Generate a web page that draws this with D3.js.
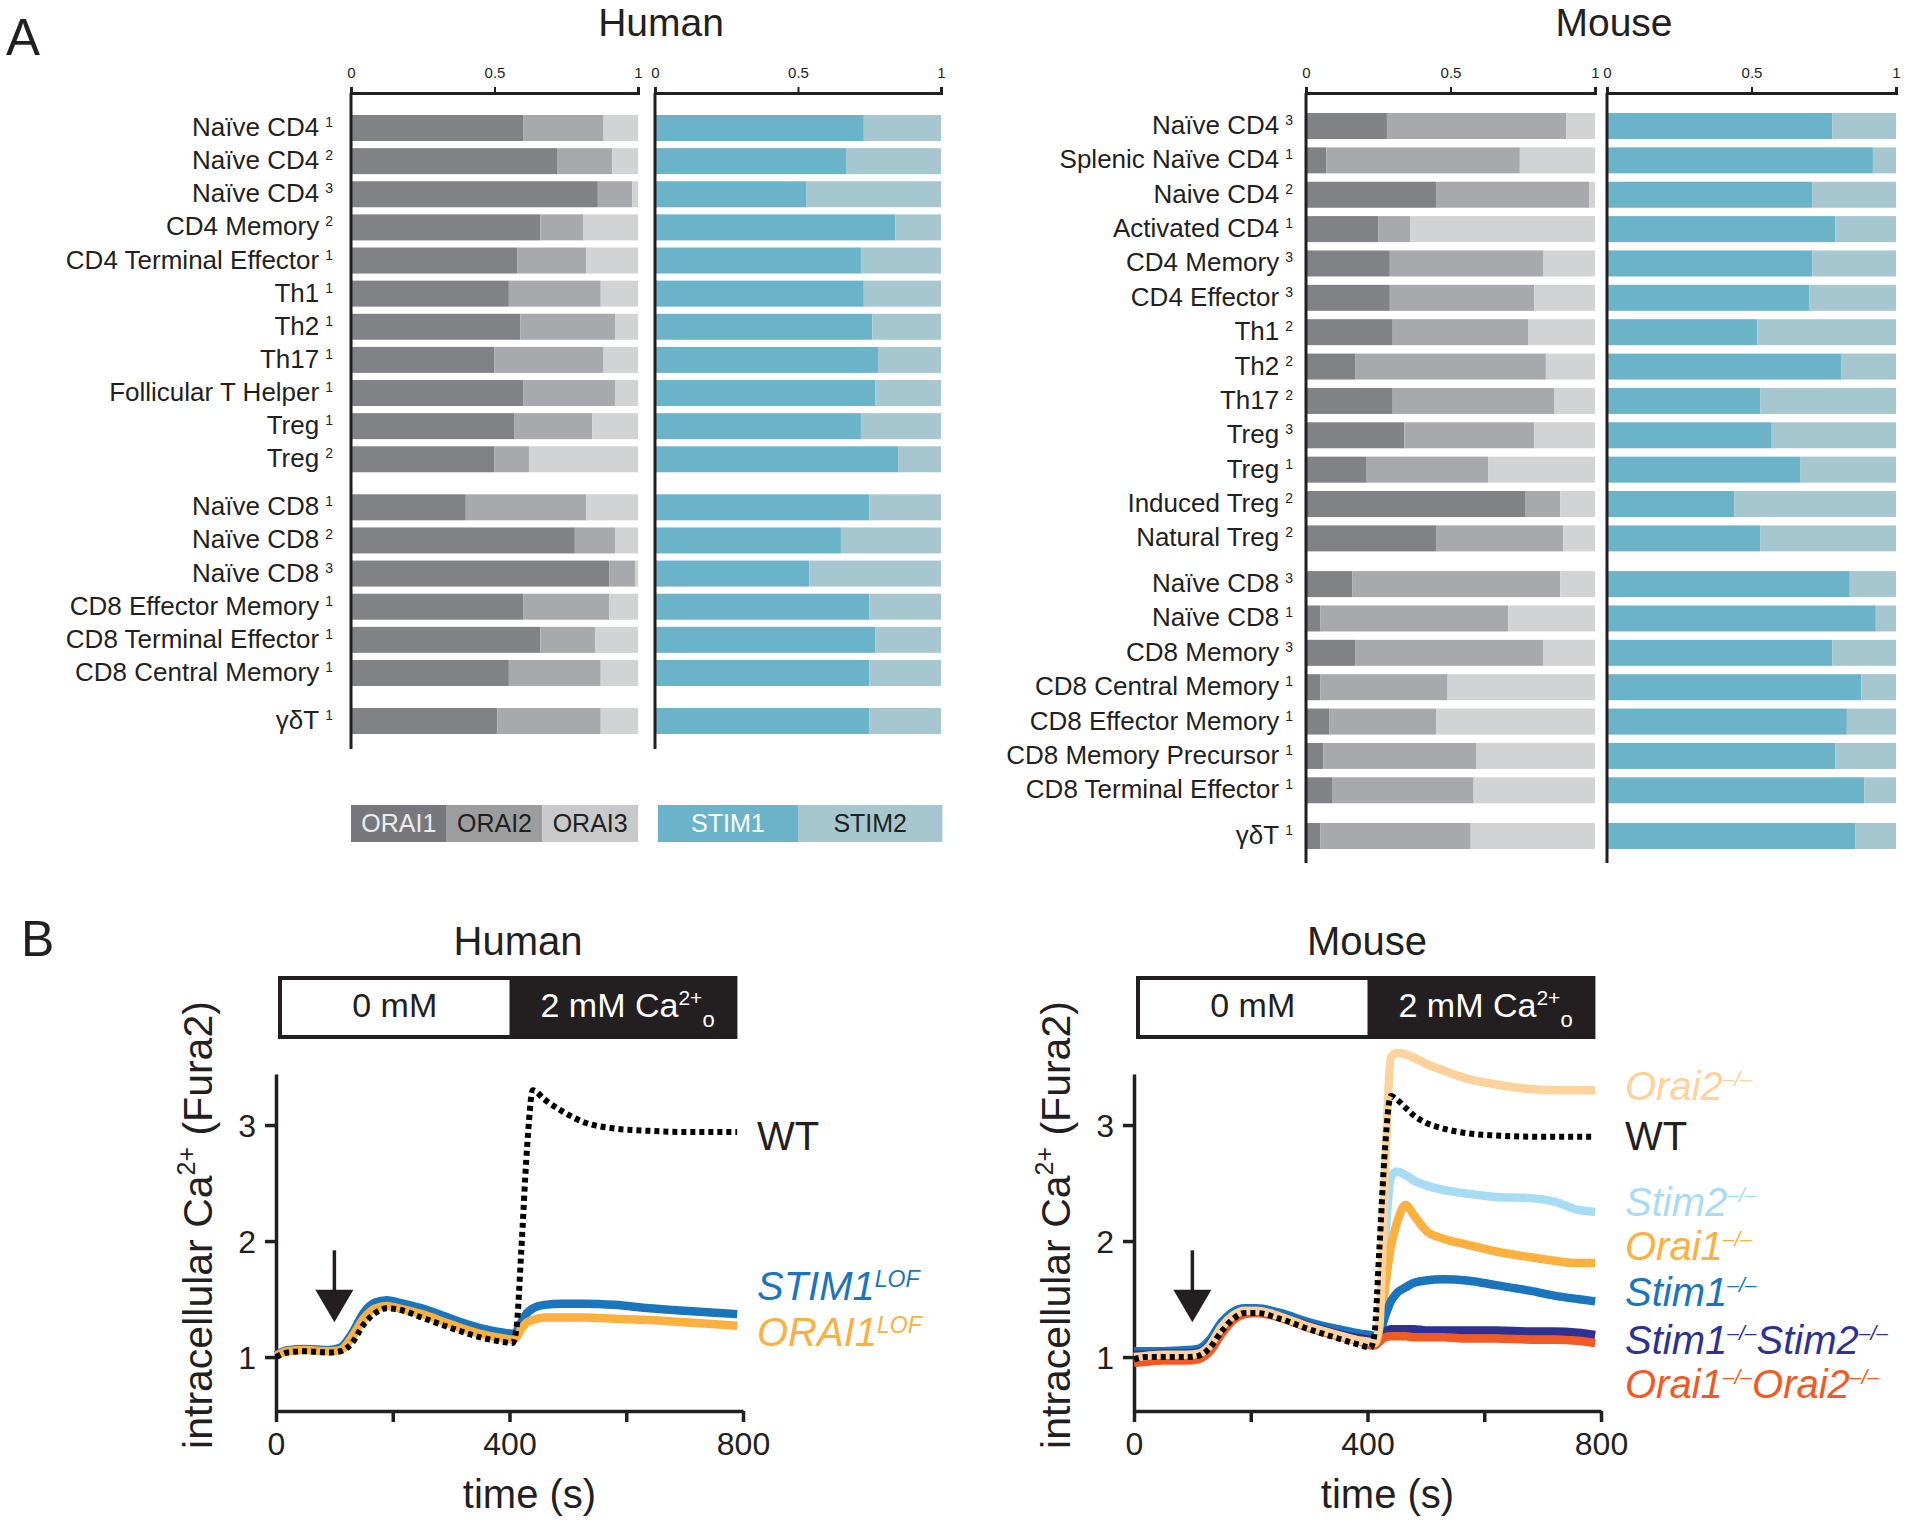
<!DOCTYPE html>
<html>
<head>
<meta charset="utf-8">
<script src="https://d3js.org/d3.v7.min.js"></script>
<style>
  body { margin: 0; background: #fff; }
  svg { display: block; font-family: "Liberation Sans", Arial, Helvetica, sans-serif; }
</style>
</head>
<body>
<svg id="fig" width="1920" height="1525"></svg>
<script>
// ---------- Panel A: relative ORAI / STIM expression ----------
var humanCells = ["Naïve CD4", "Naïve CD4", "Naïve CD4", "CD4 Memory", "CD4 Terminal Effector",
  "Th1", "Th2", "Th17", "Follicular T Helper", "Treg", "Treg",
  "Naïve CD8", "Naïve CD8", "Naïve CD8", "CD8 Effector Memory", "CD8 Terminal Effector",
  "CD8 Central Memory", "γδT"];
var humanRefs   = ["1", "2", "3", "2", "1", "1", "1", "1", "1", "1", "2", "1", "2", "3", "1", "1", "1", "1"];
var humanGroups = [0, 0, 0, 0, 0, 0, 0, 0, 0, 0, 0, 1, 1, 1, 1, 1, 1, 2];
var humanOrai1 = [0.60, 0.72, 0.86, 0.66, 0.58, 0.55, 0.59, 0.50, 0.60, 0.57, 0.50, 0.40, 0.78, 0.90, 0.60, 0.66, 0.55, 0.51];
var humanOrai2 = [0.28, 0.19, 0.12, 0.15, 0.24, 0.32, 0.33, 0.38, 0.32, 0.27, 0.12, 0.42, 0.14, 0.09, 0.30, 0.19, 0.32, 0.36];
var humanOrai3 = [0.12, 0.09, 0.02, 0.19, 0.18, 0.13, 0.08, 0.12, 0.08, 0.16, 0.38, 0.18, 0.08, 0.01, 0.10, 0.15, 0.13, 0.13];
var humanStim1 = [0.73, 0.67, 0.53, 0.84, 0.72, 0.73, 0.76, 0.78, 0.77, 0.72, 0.85, 0.75, 0.65, 0.54, 0.75, 0.77, 0.75, 0.75];
var humanStim2 = [0.27, 0.33, 0.47, 0.16, 0.28, 0.27, 0.24, 0.22, 0.23, 0.28, 0.15, 0.25, 0.35, 0.46, 0.25, 0.23, 0.25, 0.25];

var mouseCells = ["Naïve CD4", "Splenic Naïve CD4", "Naive CD4", "Activated CD4", "CD4 Memory", "CD4 Effector",
  "Th1", "Th2", "Th17", "Treg", "Treg", "Induced Treg", "Natural Treg",
  "Naïve CD8", "Naïve CD8", "CD8 Memory", "CD8 Central Memory", "CD8 Effector Memory",
  "CD8 Memory Precursor", "CD8 Terminal Effector", "γδT"];
var mouseRefs   = ["3", "1", "2", "1", "3", "3", "2", "2", "2", "3", "1", "2", "2", "3", "1", "3", "1", "1", "1", "1", "1"];
var mouseGroups = [0, 0, 0, 0, 0, 0, 0, 0, 0, 0, 0, 0, 0, 1, 1, 1, 1, 1, 1, 1, 2];
var mouseOrai1 = [0.28, 0.07, 0.45, 0.25, 0.29, 0.29, 0.30, 0.17, 0.30, 0.34, 0.21, 0.76, 0.45, 0.16, 0.05, 0.17, 0.05, 0.08, 0.06, 0.09, 0.05];
var mouseOrai2 = [0.62, 0.67, 0.53, 0.11, 0.53, 0.50, 0.47, 0.66, 0.56, 0.45, 0.42, 0.12, 0.44, 0.72, 0.65, 0.65, 0.44, 0.37, 0.53, 0.49, 0.52];
var mouseOrai3 = [0.10, 0.26, 0.02, 0.64, 0.18, 0.21, 0.23, 0.17, 0.14, 0.21, 0.37, 0.12, 0.11, 0.12, 0.30, 0.18, 0.51, 0.55, 0.41, 0.42, 0.43];
var mouseStim1 = [0.78, 0.92, 0.71, 0.79, 0.71, 0.70, 0.52, 0.81, 0.53, 0.57, 0.67, 0.44, 0.53, 0.84, 0.93, 0.78, 0.88, 0.83, 0.79, 0.89, 0.86];
var mouseStim2 = [0.22, 0.08, 0.29, 0.21, 0.29, 0.30, 0.48, 0.19, 0.47, 0.43, 0.33, 0.56, 0.47, 0.16, 0.07, 0.22, 0.12, 0.17, 0.21, 0.11, 0.14];

var oraiKeys = ["ORAI1", "ORAI2", "ORAI3"];
var stimKeys = ["STIM1", "STIM2"];
var axisTicksA = [0, 0.5, 1];

// ---------- Panel B: Fura2 Ca2+ traces ----------
var humanTime = [0, 20, 50, 90, 110, 130, 150, 170, 190, 210, 250, 300, 350, 390, 405, 412, 420, 430, 440, 460, 490, 530, 580, 640, 700, 760, 790];
var humanWT    = [1.00, 1.04, 1.05, 1.04, 1.05, 1.12, 1.28, 1.38, 1.42, 1.41, 1.34, 1.25, 1.17, 1.13, 1.12, 1.25, 1.90, 2.80, 3.30, 3.22, 3.12, 3.02, 2.97, 2.95, 2.94, 2.94, 2.94];
var humanSTIM1 = [1.02, 1.06, 1.07, 1.06, 1.08, 1.20, 1.38, 1.47, 1.49, 1.47, 1.42, 1.33, 1.25, 1.21, 1.20, 1.22, 1.30, 1.38, 1.42, 1.45, 1.46, 1.46, 1.45, 1.42, 1.40, 1.38, 1.37];
var humanORAI1 = [1.01, 1.05, 1.06, 1.05, 1.06, 1.17, 1.33, 1.42, 1.44, 1.42, 1.37, 1.28, 1.20, 1.16, 1.15, 1.17, 1.24, 1.30, 1.32, 1.34, 1.34, 1.34, 1.33, 1.32, 1.30, 1.28, 1.27];

var mouseTime = [0, 20, 50, 90, 110, 130, 150, 170, 190, 210, 250, 300, 350, 390, 405, 412, 420, 430, 440, 450, 465, 480, 500, 530, 570, 620, 680, 720, 760, 790];
var traceStim2KO = [1.03, 1.03, 1.04, 1.04, 1.05, 1.12, 1.27, 1.37, 1.41, 1.41, 1.36, 1.28, 1.21, 1.17, 1.16, 1.15, 1.30, 2.00, 2.55, 2.60, 2.57, 2.52, 2.48, 2.44, 2.41, 2.38, 2.37, 2.34, 2.27, 2.25];
var traceOrai1KO = [1.00, 1.01, 1.02, 1.02, 1.03, 1.10, 1.26, 1.36, 1.40, 1.40, 1.36, 1.28, 1.20, 1.15, 1.14, 1.14, 1.20, 1.60, 1.95, 2.15, 2.31, 2.22, 2.09, 2.02, 1.97, 1.91, 1.86, 1.83, 1.81, 1.81];
var traceStim1KO = [1.05, 1.05, 1.05, 1.06, 1.07, 1.15, 1.30, 1.39, 1.42, 1.42, 1.38, 1.30, 1.24, 1.20, 1.19, 1.18, 1.20, 1.35, 1.48, 1.55, 1.60, 1.64, 1.66, 1.67, 1.66, 1.62, 1.57, 1.53, 1.50, 1.48];
var traceS1S2KO  = [1.02, 1.02, 1.03, 1.03, 1.04, 1.11, 1.26, 1.36, 1.40, 1.40, 1.35, 1.27, 1.20, 1.16, 1.15, 1.15, 1.18, 1.22, 1.24, 1.24, 1.24, 1.24, 1.23, 1.23, 1.23, 1.23, 1.22, 1.22, 1.21, 1.19];
var traceO1O2KO  = [0.95, 0.96, 0.97, 0.97, 0.98, 1.05, 1.20, 1.32, 1.37, 1.38, 1.34, 1.25, 1.18, 1.13, 1.10, 1.10, 1.13, 1.17, 1.18, 1.18, 1.18, 1.17, 1.17, 1.17, 1.16, 1.16, 1.15, 1.15, 1.14, 1.12];
var traceOrai2KO = [1.00, 1.01, 1.02, 1.02, 1.03, 1.10, 1.26, 1.36, 1.40, 1.40, 1.35, 1.26, 1.19, 1.14, 1.13, 1.12, 1.25, 2.60, 3.58, 3.62, 3.61, 3.58, 3.53, 3.47, 3.40, 3.35, 3.31, 3.30, 3.30, 3.30];
var traceMouseWT = [0.98, 1.00, 1.00, 1.00, 1.01, 1.08, 1.22, 1.33, 1.38, 1.38, 1.33, 1.24, 1.16, 1.10, 1.08, 1.20, 1.90, 2.80, 3.25, 3.22, 3.15, 3.08, 3.02, 2.97, 2.93, 2.91, 2.90, 2.90, 2.90, 2.90];

var timeTicks = [0, 200, 400, 600, 800];
var ratioTicks = [1, 2, 3];

var ink = "#231f20";
var oraiColors = ["#808285", "#a7a9ac", "#d1d3d4"];
var stimColors = ["#6bb3c9", "#a6c7d0"];
var svg = d3.select("#fig");
svg.append("rect").attr("width", 1920).attr("height", 1525).attr("fill", "#fff");

function drawBars(cfg) {
  var g = svg.append("g");
  var rows = cfg.cells.map(function(c, i) {
    return { cell: c, ref: cfg.refs[i], slot: i + cfg.groups[i] * cfg.gap,
      ORAI1: cfg.orai[0][i], ORAI2: cfg.orai[1][i], ORAI3: cfg.orai[2][i],
      STIM1: cfg.stim[0][i], STIM2: cfg.stim[1][i] };
  });
  var y = d3.scaleLinear().domain([0, rows[rows.length - 1].slot]).range([cfg.top, cfg.lastTop]);
  var xo = d3.scaleLinear().domain([0, 1]).range(cfg.oraiRange);
  var xs = d3.scaleLinear().domain([0, 1]).range(cfg.stimRange);

  [[xo, oraiKeys, oraiColors], [xs, stimKeys, stimColors]].forEach(function(p) {
    var sc = p[0];
    var series = d3.stack().keys(p[1])(rows);
    g.append("g").selectAll("g").data(series).enter().append("g")
      .attr("fill", function(d, k) { return p[2][k]; })
      .selectAll("rect").data(function(d) { return d; }).enter().append("rect")
      .attr("x", function(d) { return sc(d[0]); })
      .attr("width", function(d) { return sc(d[1]) - sc(d[0]); })
      .attr("y", function(d) { return y(d.data.slot); })
      .attr("height", cfg.barH);

    var ax = g.append("g").attr("transform", "translate(0," + cfg.axisY + ")")
      .call(d3.axisTop(sc).tickValues(axisTicksA).tickSize(6).tickPadding(9).tickFormat(d3.format("")));
    ax.attr("font-family", null);
    ax.select(".domain").attr("stroke", ink).attr("stroke-width", 3);
    ax.selectAll(".tick line").attr("stroke", ink).attr("stroke-width", 2);
    ax.selectAll(".tick text").attr("font-size", 15).attr("fill", ink);
    g.append("line").attr("x1", sc(0)).attr("x2", sc(0))
      .attr("y1", cfg.axisY).attr("y2", cfg.axisBottom)
      .attr("stroke", ink).attr("stroke-width", 3);
  });

  g.selectAll(".rowlab").data(rows).enter().append("text")
    .attr("x", cfg.labelX)
    .attr("y", function(d) { return y(d.slot) + cfg.barH / 2 + 8; })
    .attr("text-anchor", "end").attr("font-size", 26).attr("fill", ink)
    .each(function(d) {
      var t = d3.select(this);
      t.append("tspan").text(d.cell);
      t.append("tspan").attr("dx", 6).attr("dy", -9).attr("font-size", 14).text(d.ref);
    });

  g.append("text").attr("x", cfg.titleX).attr("y", 36)
    .attr("text-anchor", "middle").attr("font-size", 39).attr("fill", ink).text(cfg.title);
  return { xo: xo, xs: xs };
}

var hs = drawBars({ title: "Human", titleX: 661, cells: humanCells, refs: humanRefs, groups: humanGroups,
  orai: [humanOrai1, humanOrai2, humanOrai3], stim: [humanStim1, humanStim2],
  gap: 0.45, top: 115, lastTop: 708, barH: 26, oraiRange: [351, 638], stimRange: [655, 941],
  axisY: 93, axisBottom: 749, labelX: 333 });
drawBars({ title: "Mouse", titleX: 1614, cells: mouseCells, refs: mouseRefs, groups: mouseGroups,
  orai: [mouseOrai1, mouseOrai2, mouseOrai3], stim: [mouseStim1, mouseStim2],
  gap: 0.33, top: 113, lastTop: 823, barH: 26, oraiRange: [1306, 1595], stimRange: [1607, 1896],
  axisY: 93, axisBottom: 863, labelX: 1293 });

// legend under human panel
var legA = svg.append("g");
var legItems = [
  { k: "ORAI1", sc: hs.xo, a: 0, b: 1 / 3, fill: "#77787b", text: "#ececec" },
  { k: "ORAI2", sc: hs.xo, a: 1 / 3, b: 2 / 3, fill: "#9c9d9f", text: ink },
  { k: "ORAI3", sc: hs.xo, a: 2 / 3, b: 1, fill: "#c8c9cb", text: ink },
  { k: "STIM1", sc: hs.xs, a: 0.01, b: 0.5, fill: "#6bb3c9", text: "#ffffff" },
  { k: "STIM2", sc: hs.xs, a: 0.5, b: 1.005, fill: "#a6c7d0", text: ink }
];
legItems.forEach(function(d) {
  legA.append("rect").attr("x", d.sc(d.a)).attr("width", d.sc(d.b) - d.sc(d.a))
    .attr("y", 805).attr("height", 37).attr("fill", d.fill);
  legA.append("text").attr("x", (d.sc(d.a) + d.sc(d.b)) / 2).attr("y", 832)
    .attr("text-anchor", "middle").attr("font-size", 25).attr("fill", d.text).text(d.k);
});

// panel letters
svg.append("text").attr("x", 6).attr("y", 55).attr("font-size", 51).attr("fill", ink).text("A");
svg.append("text").attr("x", 21).attr("y", 956).attr("font-size", 50).attr("fill", ink).text("B");

function supText(sel, parts, size, supSize, rise) {
  var up = false;
  parts.forEach(function(p) {
    var t = sel.append("tspan").text(p.s);
    if (p.sup && !up) { t.attr("dy", -rise).attr("font-size", supSize); up = true; }
    else if (p.sup) { t.attr("font-size", supSize); }
    else if (!p.sup && up) { t.attr("dy", rise).attr("font-size", size); up = false; }
  });
}

function drawTrace(cfg) {
  var g = svg.append("g");
  var x = d3.scaleLinear().domain([0, 800]).range(cfg.xRange);
  var y = d3.scaleLinear().domain([0.535, 3.44]).range([1411, 1074]);

  // title
  g.append("text").attr("x", cfg.titleX).attr("y", 955).attr("text-anchor", "middle")
    .attr("font-size", 40).attr("fill", ink).text(cfg.title);

  // solution bar
  var bx0 = x(0) + 4, bx1 = x(400), bx2 = x(787);
  g.append("rect").attr("x", bx1).attr("y", 978).attr("width", bx2 - bx1).attr("height", 59).attr("fill", ink);
  g.append("rect").attr("x", bx0).attr("y", 978).attr("width", bx2 - bx0).attr("height", 59)
    .attr("fill", "none").attr("stroke", ink).attr("stroke-width", 4);
  g.append("text").attr("x", (bx0 + bx1) / 2).attr("y", 1017).attr("text-anchor", "middle")
    .attr("font-size", 34).attr("fill", ink).text("0 mM");
  var ct = g.append("text").attr("x", bx1 + 31).attr("y", 1017).attr("font-size", 34).attr("fill", "#fff");
  ct.append("tspan").text("2 mM Ca");
  ct.append("tspan").attr("dy", -12).attr("font-size", 21).text("2+");
  ct.append("tspan").attr("dy", 22).attr("font-size", 22).text("o");

  // axes
  var ax = g.append("g").attr("transform", "translate(0,1411)")
    .call(d3.axisBottom(x).tickValues(timeTicks).tickSize(11).tickSizeOuter(0).tickPadding(10)
      .tickFormat(function(d) { return d % 400 === 0 ? d : ""; }));
  var ay = g.append("g").attr("transform", "translate(" + x(0) + ",0)")
    .call(d3.axisLeft(y).tickValues(ratioTicks).tickSize(11).tickSizeOuter(0).tickPadding(9)
      .tickFormat(d3.format("d")));
  [ax, ay].forEach(function(a) {
    a.attr("font-family", null);
    a.select(".domain").attr("stroke", ink).attr("stroke-width", 3.5);
    a.selectAll(".tick line").attr("stroke", ink).attr("stroke-width", 3.5);
    a.selectAll(".tick text").attr("font-size", 32).attr("fill", ink);
  });
  ay.selectAll(".tick text").attr("dy", "0.36em");

  g.append("text").attr("x", (x(0) + x(800)) / 2 + 20).attr("y", 1508).attr("text-anchor", "middle")
    .attr("font-size", 40).attr("fill", ink).text("time (s)");
  var yl = g.append("text").attr("transform", "translate(" + (x(0) - 64) + ",1225) rotate(-90)")
    .attr("text-anchor", "middle").attr("font-size", 41).attr("fill", ink);
  supText(yl, [{ s: "intracellular Ca" }, { s: "2+", sup: true }, { s: "\u00a0(Fura2)" }], 41, 25, 17);

  // traces
  var line = d3.line()
    .x(function(d, i) { return x(cfg.time[i]); })
    .y(function(d) { return y(d); })
    .curve(d3.curveMonotoneX);
  cfg.series.forEach(function(s) {
    var p = g.append("path").attr("d", line(s.values)).attr("fill", "none")
      .attr("stroke", s.color).attr("stroke-width", s.dashed ? 6 : 8.5);
    if (s.dashed) p.attr("stroke-dasharray", "5,4");
  });

  // stimulus arrow at ~100 s
  var axx = x(100);
  g.append("line").attr("x1", axx).attr("x2", axx).attr("y1", y(1.92)).attr("y2", y(1.5))
    .attr("stroke", ink).attr("stroke-width", 3.5);
  g.append("path").attr("d", "M" + (axx - 19) + "," + y(1.58) + "L" + (axx + 19) + "," + y(1.58) + "L" + axx + "," + y(1.3) + "Z")
    .attr("fill", ink);

  // labels
  cfg.labels.forEach(function(l) {
    var t = g.append("text").attr("x", cfg.labelX).attr("y", l.y).attr("font-size", 40)
      .attr("fill", l.color).attr("font-style", l.italic ? "italic" : null);
    supText(t, l.parts, 40, l.supSize || 21, l.rise || 14);
  });
}

drawTrace({ title: "Human", titleX: 518, xRange: [276, 743], time: humanTime, labelX: 757,
  series: [
    { values: humanSTIM1, color: "#1b75bc" },
    { values: humanORAI1, color: "#fbb040" },
    { values: humanWT, color: "#000000", dashed: true }
  ],
  labels: [
    { y: 1150, color: ink, parts: [{ s: "WT" }] },
    { y: 1300, color: "#1b75bc", italic: true, supSize: 23, rise: 13, parts: [{ s: "STIM1" }, { s: "LOF", sup: true }] },
    { y: 1346, color: "#fbb040", italic: true, supSize: 23, rise: 13, parts: [{ s: "ORAI1" }, { s: "LOF", sup: true }] }
  ] });

drawTrace({ title: "Mouse", titleX: 1367, xRange: [1134, 1601], time: mouseTime, labelX: 1625,
  series: [
    { values: traceStim2KO, color: "#a8dcf5" },
    { values: traceOrai1KO, color: "#fbb040" },
    { values: traceStim1KO, color: "#1b75bc" },
    { values: traceS1S2KO, color: "#2e3192" },
    { values: traceO1O2KO, color: "#f15a24" },
    { values: traceOrai2KO, color: "#fdd29c" },
    { values: traceMouseWT, color: "#000000", dashed: true }
  ],
  labels: [
    { y: 1100, color: "#fdd29c", italic: true, parts: [{ s: "Orai2" }, { s: "\u2013/\u2013", sup: true }] },
    { y: 1150, color: ink, parts: [{ s: "WT" }] },
    { y: 1216, color: "#a8dcf5", italic: true, parts: [{ s: "Stim2" }, { s: "\u2013/\u2013", sup: true }] },
    { y: 1260, color: "#fbb040", italic: true, parts: [{ s: "Orai1" }, { s: "\u2013/\u2013", sup: true }] },
    { y: 1306, color: "#1b75bc", italic: true, parts: [{ s: "Stim1" }, { s: "\u2013/\u2013", sup: true }] },
    { y: 1354, color: "#2e3192", italic: true, parts: [{ s: "Stim1" }, { s: "\u2013/\u2013", sup: true }, { s: "Stim2" }, { s: "\u2013/\u2013", sup: true }] },
    { y: 1398, color: "#f15a24", italic: true, parts: [{ s: "Orai1" }, { s: "\u2013/\u2013", sup: true }, { s: "Orai2" }, { s: "\u2013/\u2013", sup: true }] }
  ] });
</script>
</body>
</html>
